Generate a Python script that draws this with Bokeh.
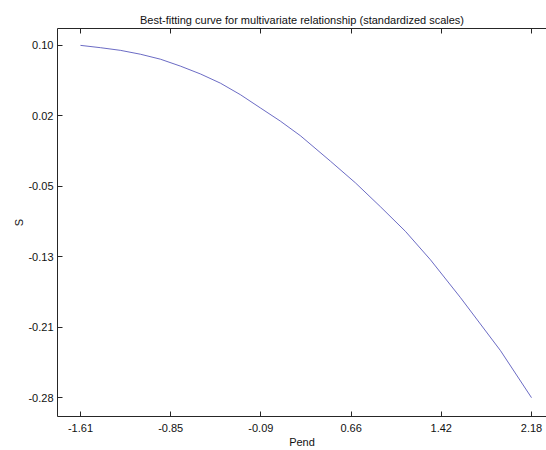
from bokeh.plotting import figure
from bokeh.models import Range1d, FixedTicker, LinearAxis, Title
from bokeh.embed import file_html
from bokeh.resources import INLINE

# ---- data ----
pend = [-1.61, -1.442, -1.274, -1.106, -0.938, -0.770, -0.602, -0.434, -0.266, -0.099,
        0.069, 0.239, 0.491, 0.701, 0.911, 1.121, 1.331, 1.583, 1.919, 2.18]
s_vals = [0.0996, 0.0971, 0.0942, 0.0900, 0.0846, 0.0771, 0.0686, 0.0586, 0.0461, 0.0318,
          0.0175, 0.0015, -0.0261, -0.0496, -0.0755, -0.1022, -0.1330, -0.1740, -0.2315, -0.2826]

x_ticks = [-1.61, -0.852, -0.094, 0.664, 1.422, 2.18]
x_tick_labels = ["-1.61", "-0.85", "-0.09", "0.66", "1.42", "2.18"]
y_ticks = [0.0996, 0.0232, -0.0532, -0.1296, -0.2060, -0.2826]
y_tick_labels = ["0.10", "0.02", "-0.05", "-0.13", "-0.21", "-0.28"]

title_text = "Best-fitting curve for multivariate relationship (standardized scales)"
x_label = "Pend"
y_label = "S"

FONT = "Liberation Sans"
AX = "#262626"

p = figure(width=546, height=450, output_backend="svg", toolbar_location=None,
           x_range=Range1d(-1.803, 2.306), y_range=Range1d(-0.3030, 0.1179),
           min_border_left=57, min_border_right=0, min_border_top=28, min_border_bottom=30)
p.title = Title(text=title_text, align="center", text_font=FONT, text_font_size="11px",
                text_font_style="normal", text_color="#111111", standoff=6)
p.outline_line_color = None
p.grid.visible = False
p.background_fill_color = "white"
p.border_fill_color = "white"

p.line(pend, s_vals, line_color="#4545b5", line_width=0.8)

xt = FixedTicker(ticks=x_ticks)
yt = FixedTicker(ticks=y_ticks)

for ax in p.xaxis:
    ax.ticker = xt
    ax.major_label_overrides = {t: l for t, l in zip(x_ticks, x_tick_labels)}
    ax.axis_label = x_label
for ax in p.yaxis:
    ax.ticker = yt
    ax.major_label_overrides = {t: l for t, l in zip(y_ticks, y_tick_labels)}
    ax.axis_label = y_label

for ax in list(p.xaxis) + list(p.yaxis):
    ax.minor_tick_line_color = None
    ax.major_tick_in = 5
    ax.major_tick_out = 0
    ax.major_tick_line_color = AX
    ax.axis_line_color = AX
    ax.major_label_text_font = FONT
    ax.major_label_text_font_size = "11px"
    ax.major_label_text_color = "#111111"
    ax.axis_label_text_font = FONT
    ax.axis_label_text_font_size = "11px"
    ax.axis_label_text_font_style = "normal"
    ax.axis_label_text_color = "#111111"

p.xaxis.major_label_standoff = 7
p.xaxis.axis_label_standoff = 1
p.xaxis.major_label_text_line_height = 1.0
p.xaxis.axis_label_text_line_height = 1.0
p.yaxis.major_label_standoff = 4
p.yaxis.axis_label_standoff = 0

top = LinearAxis(ticker=FixedTicker(ticks=x_ticks), major_tick_in=5, major_tick_out=0,
                 minor_tick_line_color=None,
                 major_label_overrides={t: "" for t in x_ticks},
                 major_label_standoff=4, axis_line_color=AX, major_tick_line_color=AX)
p.add_layout(top, "above")

open("out.html", "w").write(file_html(p, INLINE))
